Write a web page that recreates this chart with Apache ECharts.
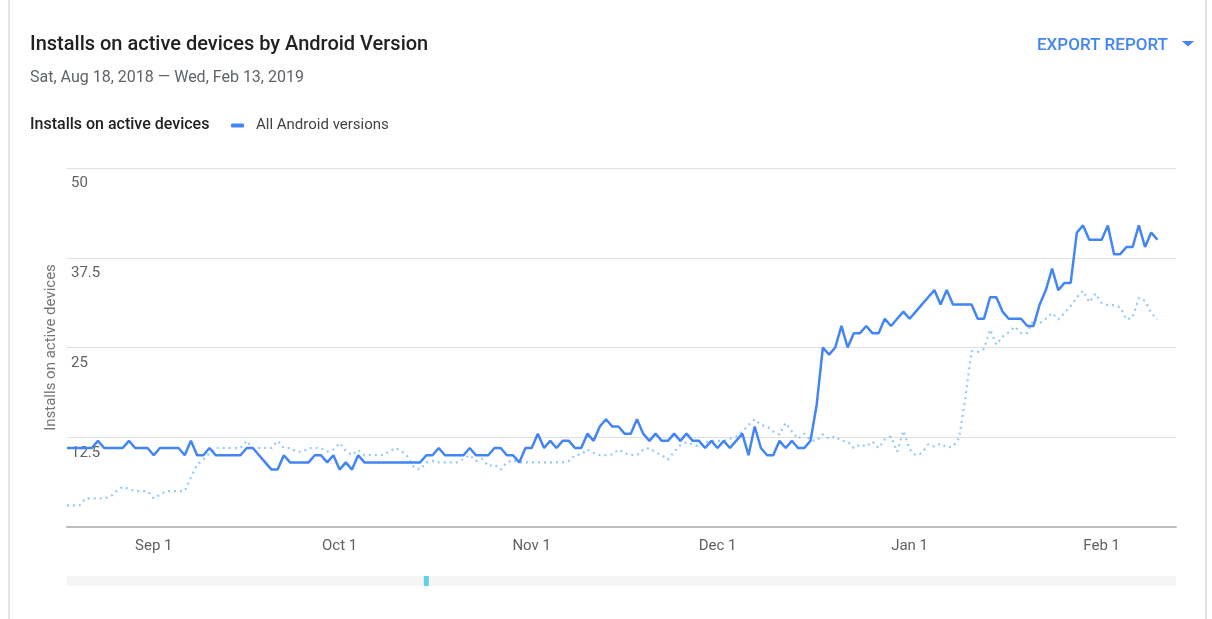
<!DOCTYPE html>
<html>
<head>
<meta charset="utf-8">
<script src="https://cdn.jsdelivr.net/npm/echarts@6/dist/echarts.min.js"></script>
<style>
html,body{margin:0;padding:0;background:#fff;}
#c{width:1212px;height:619px;}
</style>
</head>
<body>
<div id="c"></div>
<script>
// ---- data ----
var startDate = '2018-08-18';
var dayCount = 180; // Aug 18, 2018 .. Feb 13, 2019
var monthNames = ['Jan','Feb','Mar','Apr','May','Jun','Jul','Aug','Sep','Oct','Nov','Dec'];

var allVersions = [
11,11,11,11,11,12,11,11,11,11,
12,11,11,11,10,11,11,11,11,10,
12,10,10,11,10,10,10,10,10,11,
11,10,9,8,8,10,9,9,9,9,
10,10,9,10,8,9,8,10,9,9,
9,9,9,9,9,9,9,9,10,10,
11,10,10,10,10,11,10,10,10,11,
11,10,10,9,11,11,13,11,12,11,
12,12,11,11,13,12,14,15,14,14,
13,13,15,13,12,13,12,12,13,12,
13,12,12,11,12,11,12,11,12,13,
10,14,11,10,10,12,11,12,11,11,
12,17,25,24,25,28,25,27,27,28,
27,27,29,28,29,30,29,30,31,32,
33,31,33,31,31,31,31,29,29,32,
32,30,29,29,29,28,28,31,33,36,
33,34,34,41,42,40,40,40,42,38,
38,39,39,42,39,41,40
];

var comparison = [
3,3,3,4,4,4,4,4.2,5,5.6,
5.3,5,5,5,4,4.5,5,5,5,5,
6.9,8.7,9.4,10.3,11,11,11,11,11,12,
11,11,11,11,12,11,11,10.5,10.5,11,
11,11,10.5,10.8,11.7,10.6,10,10.7,10,10,
10,10,10.5,11,10.6,9.8,8.3,8,9,9.2,
9,9,9,9,9.5,10,9.2,9.5,8.5,8.7,
8,9,9.3,9,9,9,9,9,9,9,
9,9.2,10,10.1,10.8,10.3,10,10,10.1,10.8,
10.3,10,10,10.8,11,10.4,10,9.4,10.5,11.4,
11.8,11.5,11.2,11.8,12,12,12,12.3,12.6,13.3,
14.2,15,14.2,14,13.3,12.9,14.5,13.3,12.3,13,
12.1,12,12.9,12.3,12.6,12,11.9,11,11.5,11.2,
11.9,11,12.2,12.6,10.5,13.4,10.8,10,10.3,11.5,
11.2,11.6,11.1,11.2,12.4,18,24.5,24.4,24.8,27.5,
25.4,26.5,27.1,27.9,27,27,28.9,28.4,29,29.8,
28.9,29.8,30.8,32,32.9,31.3,32.5,31.2,30.9,30.9,
30.6,28.9,29.2,31.9,31.5,29.8,28.9
];

var eventDates = ['2018-10-15'];
var yTicks = {min: 0, max: 50, interval: 12.5};

// ---- build categories ----
var categories = [];
(function(){
  var p = startDate.split('-');
  var t0 = Date.UTC(+p[0], +p[1]-1, +p[2]);
  for (var i = 0; i < dayCount; i++) {
    var d = new Date(t0 + i*86400000);
    var s = d.getUTCFullYear() + '-' + String(d.getUTCMonth()+1).padStart(2,'0') + '-' + String(d.getUTCDate()).padStart(2,'0');
    categories.push(s);
  }
})();
var eventSeries = categories.map(function(c){ return eventDates.indexOf(c) >= 0 ? 1 : null; });

var FONT = 'Roboto, "Noto Sans", sans-serif';
var chart = echarts.init(document.getElementById('c'));
chart.setOption({
  animation: false,
  textStyle: {fontFamily: FONT},
  title: [
    {text: 'Installs on active devices by Android Version', left: 30, top: 35, padding: 0,
     textStyle: {fontSize: 20, fontWeight: 500, color: '#212121', fontFamily: FONT}},
    {text: 'Sat, Aug 18, 2018 \u2014 Wed, Feb 13, 2019', left: 30, top: 70, padding: 0,
     textStyle: {fontSize: 16, fontWeight: 'normal', color: '#5f6368', fontFamily: FONT}},
    {text: 'Installs on active devices', left: 30, top: 117, padding: 0,
     textStyle: {fontSize: 16, fontWeight: 500, color: '#212121', fontFamily: FONT}},
    {text: 'EXPORT REPORT', left: 1037, top: 37, padding: 0,
     textStyle: {fontSize: 17, fontWeight: 500, color: '#4285f4', fontFamily: FONT}}
  ],
  graphic: [
    {type: 'rect', shape: {x: 9, y: -10, width: 1197, height: 650},
     style: {fill: 'none', stroke: '#e3e3e3', lineWidth: 2}, silent: true, z: -1},
    {type: 'polygon', shape: {points: [[1182,41],[1194,41],[1188,46.5]]},
     style: {fill: '#4285f4'}, silent: true}
  ],
  legend: {
    data: ['All Android versions'],
    left: 231, top: 118, padding: 0,
    icon: 'roundRect', itemWidth: 13, itemHeight: 4,
    textStyle: {fontSize: 15, color: '#424242', fontFamily: FONT, padding: [0,0,0,7]}
  },
  grid: [
    {left: 67, right: 36, top: 168, bottom: 92},
    {left: 67, right: 36, top: 576, height: 10, show: true, backgroundColor: '#f5f5f5', borderWidth: 0}
  ],
  xAxis: [
    {type: 'category', data: categories, boundaryGap: false,
     axisLine: {lineStyle: {color: '#bdbdbd', width: 2}},
     axisTick: {show: false},
     splitLine: {show: false},
     axisLabel: {
       color: '#616161', fontSize: 15, margin: 12, fontFamily: FONT,
       interval: function(i, v){ return v.slice(8) === '01'; },
       formatter: function(v){ return monthNames[+v.slice(5,7)-1] + ' ' + (+v.slice(8)); }
     }},
    {type: 'category', gridIndex: 1, data: categories, boundaryGap: false, show: false}
  ],
  yAxis: [
    {type: 'value', min: yTicks.min, max: yTicks.max, interval: yTicks.interval,
     name: 'Installs on active devices', nameLocation: 'middle', nameGap: 8,
     nameTextStyle: {color: '#757575', fontSize: 15, fontFamily: FONT},
     axisLine: {show: false}, axisTick: {show: false},
     splitLine: {lineStyle: {color: '#e0e0e0', width: 1}},
     axisLabel: {inside: true, margin: 4, verticalAlign: 'top', padding: [8,0,0,0],
       color: '#616161', fontSize: 15, fontFamily: FONT,
       formatter: function(v){ return v === 0 ? '' : String(v); }}},
    {type: 'value', gridIndex: 1, min: 0, max: 1, show: false}
  ],
  series: [
    {name: 'Comparison', type: 'line', data: comparison, showSymbol: false, z: 2,
     lineStyle: {color: '#90caf9', width: 2.2, type: [2, 4]}, itemStyle: {color: '#90caf9'}},
    {name: 'All Android versions', type: 'line', data: allVersions, showSymbol: false, z: 3,
     lineStyle: {color: '#4285f4', width: 2.5}, itemStyle: {color: '#4285f4'}},
    {name: 'Events', type: 'bar', xAxisIndex: 1, yAxisIndex: 1, data: eventSeries,
     barWidth: 5, itemStyle: {color: '#5fd3e2'}}
  ]
});
</script>
</body>
</html>
